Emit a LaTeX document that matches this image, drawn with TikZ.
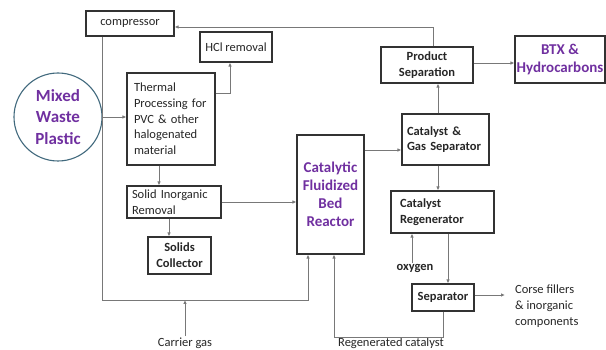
\documentclass[tikz,border=0pt]{standalone}
\usepackage{fontspec}
\setmainfont{Carlito}
\usetikzlibrary{arrows.meta}
\definecolor{mypurple}{HTML}{7030A0}
\definecolor{circblue}{RGB}{65,105,125}
\definecolor{linegray}{RGB}{120,120,120}
\definecolor{boxgray}{RGB}{50,50,50}
\tikzset{
  box/.style={draw=boxgray, line width=1.1pt, inner sep=0pt, minimum width=#1},
  txt/.style={font=\fontsize{12.5}{15.7}\selectfont, text=black!85},
  btxt/.style={font=\bfseries\fontsize{12.5}{15.7}\selectfont, text=black!85},
  ptxt/.style={font=\bfseries\fontsize{15}{18}\selectfont, text=mypurple},
  arr/.style={draw=linegray, line width=0.8pt, -{Latex[length=4pt,width=3.5pt]}},
  ln/.style={draw=linegray, line width=0.8pt}
}
\begin{document}
\begin{tikzpicture}[x=1pt,y=-1pt]
\useasboundingbox (0,0) rectangle (606,350);
% circle
\node[draw=circblue, line width=1.1pt, circle, minimum size=88pt, inner sep=0pt,
      font=\bfseries\fontsize{17}{21.5}\selectfont, text=mypurple, align=center]
      (mwp) at (58,117) {Mixed\\Waste\\Plastic};
% boxes
\node[box=88pt, minimum height=25pt, txt] (comp) at (130,23.5) {compressor};
\node[box=72pt, minimum height=30pt, txt] (hcl) at (236,47) {HCl removal};
\node[box=88pt, minimum height=92pt, txt, text width=74pt, align=left] (thermal) at (171,119)
  {Thermal\\Processing for\\PVC \& other\\halogenated\\material};
\node[box=94pt, minimum height=32pt, txt, text width=84pt, align=left] (sir) at (174,202)
  {Solid Inorganic\\Removal};
\node[box=63pt, minimum height=37pt, btxt, align=center] (solids) at (179.5,255.5)
  {Solids\\Collector};
\node[box=67pt, minimum height=119pt, ptxt, align=center] (reactor) at (330.5,194.5)
  {Catalytic\\Fluidized\\Bed\\Reactor};
\node[box=92pt, minimum height=36pt, btxt, align=center] (prod) at (427,65)
  {Product\\Separation};
\node[box=90pt, minimum height=47pt, ptxt, align=center] (btx) at (560,59.5)
  {BTX \&\\Hydrocarbons};
\node[box=87pt, minimum height=51pt, btxt, text width=77pt, align=left] (catgas) at (445.5,139.5)
  {Catalyst \&\\Gas Separator};
\node[box=103pt, minimum height=42pt, btxt, text width=85pt, align=left] (regen) at (442.5,212)
  {Catalyst\\Regenerator};
\node[box=62pt, minimum height=27pt, btxt, align=center] (sep) at (443,297.5)
  {Separator};
% free texts
\node[btxt, inner sep=1pt] (oxy) at (415,268) {oxygen};
\node[txt, anchor=west, align=left, inner sep=0pt] (corse) at (515,306)
  {Corse fillers\\\& inorganic\\components};
\node[txt, inner sep=0pt] (carrier) at (185,343) {Carrier gas};
\node[txt, inner sep=0pt] (regcat) at (391,343.5) {Regenerated catalyst};
\coordinate (cgstart) at (185,336);
% connectors
\draw[arr] (mwp.east) -- (thermal.west |- mwp.east);
\draw[arr] (thermal.east |- 0,93) -| ([xshift=-6pt]hcl.south);
\draw[arr] ([xshift=6pt]prod.north) |- (comp.east |- 0,27);
\draw[arr] (comp.south -| 102,0) |- (308,300) -- (reactor.south -| 308,0);
\draw[arr] (cgstart) -- (185,300);
\draw[arr] (thermal.south -| 159,0) -- (sir.north -| 159,0);
\draw[arr] (sir.south -| 169,0) -- (solids.north -| 169,0);
\draw[arr] (sir.east) -- (reactor.west |- sir.east);
\draw[arr] (reactor.east |- 0,150) -- (catgas.west |- 0,150);
\draw[arr] (catgas.north -| 438,0) -- (prod.south -| 438,0);
\draw[arr] (prod.east |- 0,63) -- (btx.west |- 0,63);
\draw[arr] (catgas.south -| 438,0) -- (regen.north -| 438,0);
\draw[arr] (oxy.north -| 412,0) -- (regen.south -| 412,0);
\draw[arr] (regen.south -| 448,0) -- (sep.north -| 448,0);
\draw[arr] (sep.east |- 0,295) -- ([xshift=-10pt]corse.west |- 0,295);
\draw[arr] (sep.south -| 443,0) |- (334,337) -- (reactor.south -| 334,0);
\end{tikzpicture}
\end{document}
